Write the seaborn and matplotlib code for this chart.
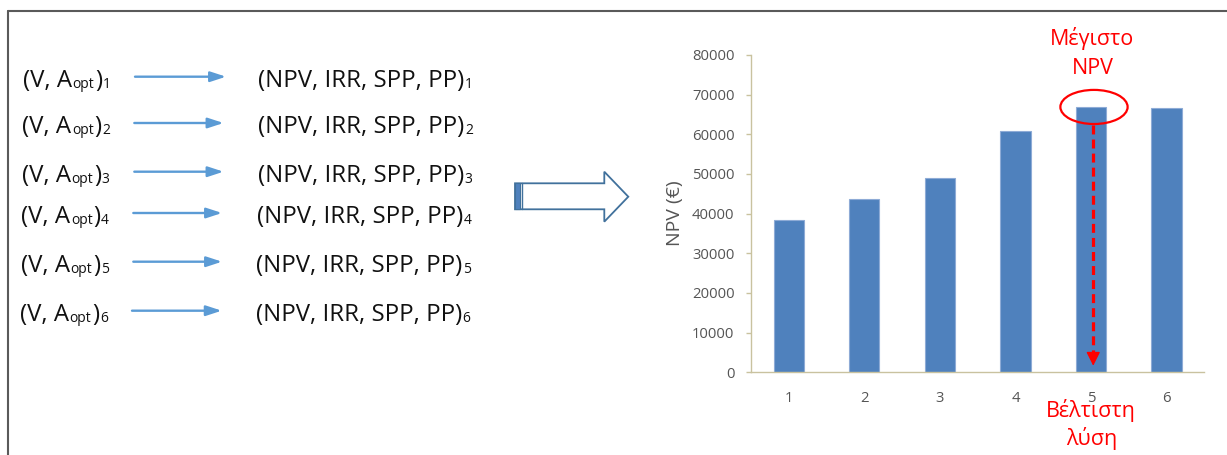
import matplotlib
matplotlib.use("Agg")
import matplotlib.pyplot as plt
import numpy as np
import pandas as pd
import seaborn as sns
from matplotlib.patches import Ellipse, Polygon, Rectangle, FancyArrowPatch
from matplotlib.lines import Line2D

# ---------------- data ----------------
categories = ["1", "2", "3", "4", "5", "6"]
npv_values = [38300, 43600, 49000, 60800, 67000, 66700]
y_ticks = [0, 10000, 20000, 30000, 40000, 50000, 60000, 70000, 80000]
y_label = "NPV (€)"
row_ids = ["1", "2", "3", "4", "5", "6"]
input_head = "(V, A"
input_sub = "opt"
input_tail = ")"
output_label = "(NPV, IRR, SPP, PP)"
top_note = ["Μέγιστο", "NPV"]
bottom_note = ["Βέλτιστη", "λύση"]
best_index = 4

# ---------------- layout (pixels) ----------------
W, H = 1227, 455
arrow_y = [76.7, 123.0, 171.7, 213.0, 261.7, 310.7]
arrow_x0 = [135.0, 134.3, 134.3, 133.3, 133.3, 132.0]
arrow_x1 = [226.0, 223.5, 223.5, 222.0, 222.0, 221.7]
left_x = [22.7, 22.3, 21.7, 21.3, 20.7, 20.0]
right_x = [258.3, 258.3, 258.0, 257.0, 256.0, 256.0]

sns.set_style("white")
plt.rcParams["font.family"] = ["Open Sans", "DejaVu Sans"]

fig = plt.figure(figsize=(W / 100, H / 100), dpi=100)
renderer = fig.canvas.get_renderer()


def fx(x):
    return x / W


def fy(y):
    return 1 - y / H


def draw_run(x, base, pieces, size, color="#111111"):
    """pieces: list of (text, is_subscript); x, base in pixels from top-left."""
    for txt, sub in pieces:
        s = size * (0.58 if sub else 1.0)
        yb = base + (1.5 if sub else 0.0)
        t = fig.text(fx(x), fy(yb), txt, ha="left", va="baseline",
                     fontsize=s, color=color)
        bb = t.get_window_extent(renderer=renderer)
        x += bb.width + (1.0 if sub else 0.5)


# ---------------- frame ----------------
frame_c = "#5a5a5a"
fig.add_artist(Line2D([fx(7.8), 1.0], [fy(10.5), fy(10.5)], transform=fig.transFigure,
                      color=frame_c, lw=1.5))
fig.add_artist(Line2D([fx(7.8), fx(7.8)], [fy(10.5), 0.0], transform=fig.transFigure,
                      color=frame_c, lw=1.5))

# ---------------- left rows ----------------
blue_line = "#5b9bd5"
txt_size = 17.3
for i, rid in enumerate(row_ids):
    base = arrow_y[i] + 10
    draw_run(left_x[i], base, [(input_head, False), (input_sub, True),
                               (input_tail, False), (rid, True)], txt_size)
    draw_run(right_x[i], base, [(output_label, False), (rid, True)], txt_size)
    arr = FancyArrowPatch((fx(arrow_x0[i]), fy(arrow_y[i])), (fx(arrow_x1[i]), fy(arrow_y[i])),
                          transform=fig.transFigure,
                          arrowstyle="-|>,head_length=0.55,head_width=0.18",
                          mutation_scale=17, lw=1.7, color=blue_line,
                          shrinkA=0, shrinkB=0)
    fig.add_artist(arr)

# ---------------- big hollow arrow ----------------
outline = "#41719c"
pts = [(515, 183.3), (604.3, 183.3), (604.3, 171.7), (628.3, 196.7),
       (604.3, 221.7), (604.3, 209.3), (515, 209.3)]
fig.add_artist(Polygon([(fx(x), fy(y)) for x, y in pts], closed=True,
                       transform=fig.transFigure, facecolor="white",
                       edgecolor=outline, lw=1.3, joinstyle="miter"))
fig.add_artist(Rectangle((fx(515), fy(209.3)), fx(520) - fx(515), fy(183.3) - fy(209.3),
                         transform=fig.transFigure, facecolor="#4f81bd",
                         edgecolor=outline, lw=0.8))
fig.add_artist(Line2D([fx(521.5), fx(521.5)], [fy(183.3), fy(209.3)],
                      transform=fig.transFigure, color=outline, lw=1.0))

# ---------------- bar chart ----------------
ax = fig.add_axes([fx(751), fy(372.3), (1204.3 - 751) / W, (372.3 - 55) / H])
df = pd.DataFrame({"case": categories, "npv": npv_values})
sns.barplot(data=df, x="case", y="npv", color="#4f81bd", saturation=1, width=0.4,
            edgecolor="#8eabd6", linewidth=0.8, ax=ax)
ax.set_xlim(-0.5, len(categories) - 0.5)
ax.set_ylim(0, 80000)
ax.set_yticks(y_ticks)
ax.set_yticklabels([str(v) for v in y_ticks])
spine_c = "#c9c29f"
for s in ["top", "right"]:
    ax.spines[s].set_visible(False)
for s in ["left", "bottom"]:
    ax.spines[s].set_color(spine_c)
    ax.spines[s].set_linewidth(1.0)
lab_c = "#555555"
ax.tick_params(axis="y", length=3.6, width=1.0, color=spine_c, labelcolor=lab_c,
               labelsize=10.7, pad=8.3, left=True)
ax.tick_params(axis="x", length=0, labelcolor=lab_c, labelsize=10.7, pad=13.5)
ax.set_xlabel("")
ax.set_ylabel(y_label, color=lab_c, fontsize=14)
ax.yaxis.set_label_coords(-0.148, 0.5)

# ---------------- annotations ----------------
red = "#ff0000"
xb = best_index + 0.03
ax.add_patch(Ellipse((best_index + 0.04, 66900), 0.89, 8600, fill=False,
                     edgecolor=red, lw=1.6, clip_on=False, zorder=5))
ax.plot([xb, xb], [62300, 4200], color=red, lw=2.3, dashes=(2.8, 1.6),
        solid_capstyle="butt", zorder=6)
ax.annotate("", xy=(xb, 1650), xytext=(xb, 4600),
            arrowprops=dict(arrowstyle="-|>,head_length=0.6,head_width=0.3",
                            mutation_scale=14, color=red, lw=1.0,
                            shrinkA=0, shrinkB=0), zorder=7)

note_size = 15.5
fig.text(fx(1092.5), fy(38), top_note[0], ha="center", va="center", color=red, fontsize=note_size)
fig.text(fx(1092.5), fy(69), top_note[1], ha="center", va="center", color=red, fontsize=note_size)
fig.text(fx(1090.5), fy(411), bottom_note[0], ha="center", va="center", color=red, fontsize=note_size)
fig.text(fx(1091.5), fy(439), bottom_note[1], ha="center", va="center", color=red, fontsize=note_size)

fig.savefig("out.png", dpi=100)
